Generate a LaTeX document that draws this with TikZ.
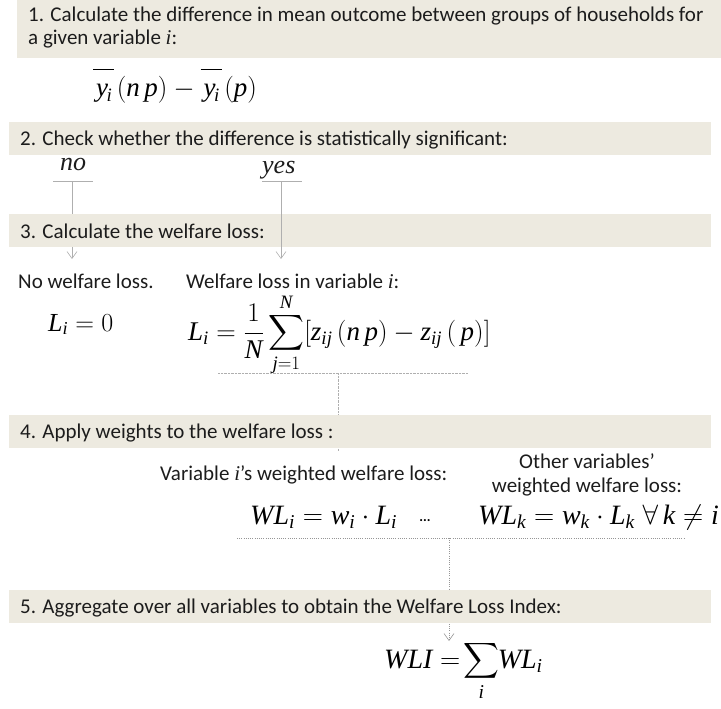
\RequirePackage{fix-cm}
\documentclass[tikz,border=0pt]{standalone}
\usepackage{exscale}
\usepackage{fontspec}
\setmainfont{Carlito}
\setmathrm{Liberation Serif}
\newfontfamily\mathserif{Liberation Serif}
\usetikzlibrary{arrows.meta}
\definecolor{barfill}{RGB}{237,234,224}
\definecolor{txt}{RGB}{28,28,28}
\definecolor{lncol}{RGB}{175,175,175}
\definecolor{dotcol}{RGB}{150,150,150}
\pgfdeclarelayer{back}
\pgfdeclarelayer{bars}
\pgfsetlayers{back,bars,main}
\newcommand{\itv}[1]{{\mathserif\itshape #1}}
\newcommand{\mi}[1]{\mathit{#1}}
\newcommand{\ybar}{\overline{\mkern2mu\mi{y}\mkern4mu\rule{0pt}{24pt}}\mkern-5mu}
\tikzset{
  bar/.style={fill=barfill, draw=none},
  steptext/.style={anchor=base west, inner sep=0pt, text=txt, font=\fontsize{21}{25}\selectfont},
  labtext/.style={anchor=base west, inner sep=0pt, text=txt, font=\fontsize{21}{24}\selectfont},
  yesno/.style={anchor=base west, inner sep=0pt, text=txt, font=\fontsize{26}{30}\mathserif\itshape},
  formula/.style={inner sep=0pt, text=black},
  conn/.style={draw=lncol, line width=0.6pt},
  dotconn/.style={draw=dotcol, line width=1pt, dash pattern=on 1pt off 1.2pt},
  vtip/.style={-{Straight Barb[length=7pt,width=10pt,line width=0.6pt]}}
}
\begin{document}
\begin{tikzpicture}[x=1pt,y=-1pt]
\useasboundingbox (0,0) rectangle (721,709);

% bars
\begin{pgfonlayer}{bars}
\fill[bar] (17,0) rectangle (721,58);
\fill[bar] (9,122) rectangle (711,155);
\fill[bar] (9,214) rectangle (711,247);
\fill[bar] (9,415) rectangle (711,448);
\fill[bar] (9,590) rectangle (711,623);
\end{pgfonlayer}

% step texts
\node[steptext] (s1) at (28,22) {1. Calculate the difference in mean outcome between groups of households for};
\node[steptext] (s1b) at (28,45) {a given variable \itv{i}:};
\node[steptext] (s2) at (20,146) {2. Check whether the difference is statistically significant:};
\node[steptext] (s3) at (20,238) {3. Calculate the welfare loss:};
\node[steptext] (s4) at (20,438) {4. Apply weights to the welfare loss :};
\node[steptext] (s5) at (20,613) {5. Aggregate over all variables to obtain the Welfare Loss Index:};

% formula 1
\node[formula, anchor=base west, font=\fontsize{27}{30}\selectfont] (f1) at (93,97) {$\ybar_{\mi{i}}\,(\mi{n}\,\mi{p})-\ybar_{\mi{i}}\,(\mi{p})$};

% yes / no
\node[yesno] (no) at (60,171) {no};
\node[yesno] (yes) at (262,173) {yes};
\coordinate (noL) at (53,181); \coordinate (noR) at (93,181);
\coordinate (yesL) at (262,181); \coordinate (yesR) at (302,181);
\draw[conn] (noL) -- (noR);
\draw[conn] (yesL) -- (yesR);
\coordinate (noTop) at (72,181);
\coordinate (noEnd) at (72,259);
\coordinate (yesTop) at (281,181);
\coordinate (yesEnd) at (281,259);
\begin{pgfonlayer}{back}
\draw[conn, vtip] (noTop) -- (noEnd);
\end{pgfonlayer}
\draw[conn, vtip] (yesTop) -- (yesEnd);

% step 3 results
\node[labtext] (noloss) at (18,288) {No welfare loss.};
\node[labtext] (loss) at (186,288) {Welfare loss in variable \itv{i}:};
\node[formula, anchor=base west, font=\fontsize{26}{30}\selectfont] (f3a) at (48,331) {$\mi{L}_{\mi{i}}=0$};
\node[formula, anchor=base west, font=\fontsize{27}{30}\selectfont] (f3b) at (188,340) {$\displaystyle \mi{L}_{\mi{i}}=\frac{1}{\mi{N}}\sum_{\mi{j}=1}^{\mi{N}}[\mi{z}_{\mi{ij}}\,(\mi{n}\,\mi{p})-\mi{z}_{\mi{ij}}\,(\,\mi{p})]$};
\coordinate (u3L) at (218,373); \coordinate (u3R) at (468,373);
\draw[conn, dash pattern=on 0.8pt off 0.6pt] (u3L) -- (u3R);
\coordinate (u3M) at (338,373);
\coordinate (u3End) at (338,451);
\begin{pgfonlayer}{back}
\draw[conn, dash pattern=on 0.8pt off 0.6pt] (u3M) -- (u3End);
\end{pgfonlayer}

% step 4
\node[labtext] (vi) at (160,480) {Variable \itv{i}’s weighted welfare loss:};
\node[labtext, anchor=base] (ov1) at (587,468) {Other variables’};
\node[labtext, anchor=base] (ov2) at (587,492) {weighted welfare loss:};
\node[formula, anchor=base west, font=\fontsize{28}{32}\selectfont] (f4a) at (250,524) {$\mi{WL}_{\mi{i}}=\mi{w}_{\mi{i}}\cdot \mi{L}_{\mi{i}}$};
\node[formula, anchor=base, font=\bfseries\fontsize{14}{16}\selectfont] (dots) at (425,521) {...};
\node[formula, anchor=base west, font=\fontsize{28}{32}\selectfont] (f4b) at (478,524) {$\mi{WL}_{\mi{k}}=\mi{w}_{\mi{k}}\cdot \mi{L}_{\mi{k}}\;\forall\, \mi{k}\neq \mi{i}$};
\coordinate (u4L) at (237,538); \coordinate (u4R) at (685,538);
\draw[dotconn] (u4L) -- (u4R);
\coordinate (u4M) at (449,538);
\coordinate (u4End) at (449,641);
\begin{pgfonlayer}{back}
\draw[dotconn, -{Straight Barb[length=7pt,width=10pt,line width=0.6pt]}] (u4M) -- (u4End);
\end{pgfonlayer}

% step 5
\node[formula, anchor=base west, font=\fontsize{28}{32}\selectfont] (f5) at (384,668) {$\displaystyle \mi{WLI}=\mkern-3mu\sum_{\mi{i}}\mkern-4mu \mi{WL}_{\mi{i}}$};
\end{tikzpicture}
\end{document}
